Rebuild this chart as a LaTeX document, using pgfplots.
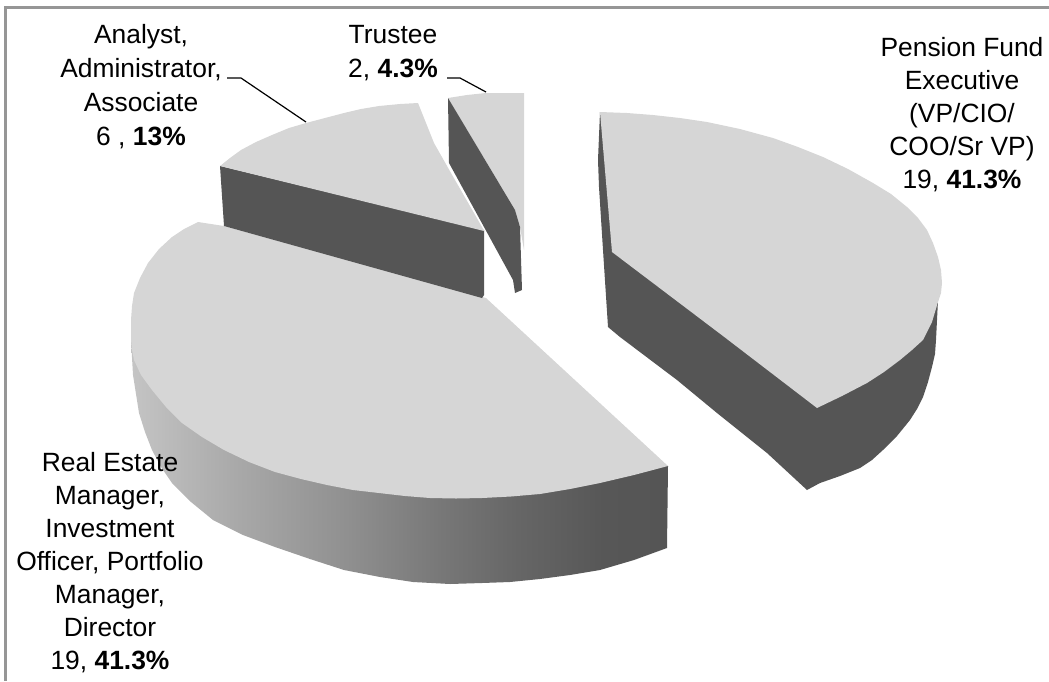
\documentclass[border=0pt]{standalone}
\usepackage{fontspec}
\setmainfont{Liberation Sans}
\usepackage{pgfplots}
\pgfplotsset{compat=1.18}
\definecolor{topface}{HTML}{D6D6D6}
\definecolor{wallface}{HTML}{555555}
\definecolor{framegrey}{HTML}{969696}
% Outer rim of the largest slice: light on the left, dark on the right
\pgfdeclarehorizontalshading{rimshade}{100bp}{
  rgb(0bp)=(0.77,0.77,0.77);
  rgb(25bp)=(0.77,0.77,0.77);
  rgb(35bp)=(0.66,0.66,0.66);
  rgb(45bp)=(0.565,0.565,0.565);
  rgb(54bp)=(0.467,0.467,0.467);
  rgb(61bp)=(0.40,0.40,0.40);
  rgb(69bp)=(0.341,0.341,0.341);
  rgb(75bp)=(0.333,0.333,0.333);
  rgb(100bp)=(0.333,0.333,0.333)}
\begin{document}
\begin{tikzpicture}
\begin{axis}[
  scale only axis, width=1049pt, height=681pt,
  xmin=0, xmax=1049, ymin=0, ymax=681, y dir=reverse,
  axis lines=none, clip=true]
% full page extent
\path (axis cs:0,0) rectangle (axis cs:1049,681);
% frame
\addplot[framegrey, line width=3pt, forget plot] coordinates {(1049,7)(5,7)(5,681)};
% Real Estate slice: rim then top
\addplot[draw=none, shading=rimshade, forget plot] coordinates {
 (131,320)(131,340)(133,375)(139,413)(145,432)(152,450)(161,467)(172,483)(191,502)(213,520)(243,535)(275,547)(310,559)(344,570)(380,577)(413,582)(450,584)(482,583)(510,582)(540,579)(570,575)(600,570)(634,560)(667,548)(668,466)(400,400)} --cycle;
\addplot[draw=none, fill=topface, forget plot] coordinates {
 (198,222)(184,229)(172,237)(159,249)(148,263)(140,278)(134,293)(132,306)(131,320)(131,340)(132,350)(134,360)(141,375)(152,390)(166,407)(182,423)(202,437)(224,450)(249,462)(275,472)(301,479)(327,485)(353,490)(379,493)(405,496)(430,498)(456,498.5)(482,498)(511,496.5)(540,494)(570,489)(600,483)(634,475)(668,466)(486,298)(224,226)} --cycle;
% Analyst slice: wall then top
\addplot[draw=none, fill=wallface, forget plot] coordinates {
 (220,166)(224,226)(482,298)(484,295)(484,230)} --cycle;
\addplot[draw=none, fill=topface, forget plot] coordinates {
 (220,166)(230,158)(241,150)(256,142)(272,135)(289,128)(306,123)(325,118)(344,113)(361,109)(379,106)(400,104)(418,103)(434,143)(451,173)(482,227)(484,231)} --cycle;
% Trustee slice: top then wall
\addplot[draw=none, fill=topface, forget plot] coordinates {
 (448,98)(467,95)(486,93)(524,93)(524,250)(520,227)(515,210)} --cycle;
\addplot[draw=none, fill=wallface, forget plot] coordinates {
 (448,98)(515,210)(520,227)(522,290)(515,293)(513,280)(449,163)} --cycle;
% Pension Fund slice: wall then top
\addplot[draw=none, fill=wallface, forget plot] coordinates {
 (600,112)(598,160)(599,187)(603,250)(608,327)(620,337)(677,380)(717,413)(767,453)(807,490)(820,483)(840,476)(860,468)(872,460)(883,450)(897,436)(910,420)(917,409)(923,397)(928,382)(932,367)(935,354)(936,340)(938,300)(800,250)} --cycle;
\addplot[draw=none, fill=topface, forget plot] coordinates {
 (600,112)(627,113)(653,115)(680,118)(707,122)(740,129)(773,138)(798,147)(823,157)(848,169)(873,183)(891,194)(907,207)(918,218)(927,230)(933,243)(938,257)(941,270)(942,283)(941,293)(938,302)(932,322)(923,340)(912,350)(900,360)(884,372)(867,383)(842,396)(817,408)(723,336)(612,252)} --cycle;
% leader lines
\addplot[black, line width=1.2pt, forget plot] coordinates {(227,78)(241,78)(306,122)};
\addplot[black, line width=1.2pt, forget plot] coordinates {(447,78)(460,78)(486,92)};
% labels
\node[align=center, font=\fontsize{26.4}{34}\selectfont] at (axis cs:141,87)
  {Analyst,\\Administrator,\\Associate\\6 , \textbf{13\%}};
\node[align=center, font=\fontsize{26.4}{34}\selectfont] at (axis cs:393,53)
  {Trustee\\2, \textbf{4.3\%}};
\node[align=center, font=\fontsize{26.4}{33}\selectfont] at (axis cs:962,115)
  {Pension Fund\\Executive\\(VP/CIO/\\COO/Sr VP)\\19, \textbf{41.3\%}};
\node[align=center, font=\fontsize{26.4}{33}\selectfont] at (axis cs:110,563)
  {Real Estate\\Manager,\\Investment\\Officer, Portfolio\\Manager,\\Director\\19,  \textbf{41.3\%}};
\end{axis}
\end{tikzpicture}
\end{document}
